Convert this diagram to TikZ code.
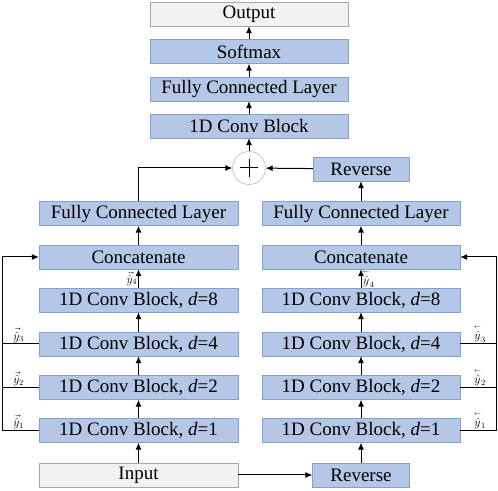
\documentclass[tikz,border=0pt]{standalone}
\usepackage{fontspec}
\usepackage{amsmath}
\setmainfont{Liberation Serif}
\newfontfamily\blkfont{Liberation Serif}
\usetikzlibrary{positioning,arrows.meta}

\definecolor{blockfill}{RGB}{180,199,231}
\definecolor{blockline}{RGB}{132,160,206}
\definecolor{iofill}{RGB}{242,242,242}
\definecolor{ioline}{RGB}{166,166,166}

\newcommand{\blksiz}{\blkfont\fontsize{19}{21}\selectfont}
\newcommand{\yhsiz}{\fontsize{12}{13}\selectfont}
\newcommand{\fwd}[1]{\vec{\hat{y}}_{#1}}
\newcommand{\bwd}[1]{\overset{\scriptscriptstyle\leftarrow}{\hat{y}}_{#1}}

\tikzset{
    block/.style={draw=blockline, fill=blockfill, minimum height=24pt, inner sep=0pt, font=\blksiz},
    iobox/.style={draw=ioline, fill=iofill, minimum height=24pt, inner sep=0pt, font=\blksiz},
    flow/.style={line width=1pt, -{Latex[length=7pt,width=6pt]}},
    link/.style={line width=1pt},
    yhat/.style={font=\yhsiz, inner sep=1pt}
}

\begin{document}
\begin{tikzpicture}[x=1pt, y=1pt]
    \useasboundingbox (0,0) rectangle (498,490);

    % top stack
    \node[iobox, minimum width=198pt] (out) at (249,476) {Output};
    \node[block, minimum width=198pt] (soft) at (249,438.5) {Softmax};
    \node[block, minimum width=198pt] (fctop) at (249,401) {Fully Connected Layer};
    \node[block, minimum width=198pt] (convtop) at (249,364) {1D Conv Block};
    \node[circle, draw=ioline, fill=white, minimum size=33pt, inner sep=0pt] (sum) at (249,322) {};
    \draw[link] ([xshift=-9pt]sum.center) -- ([xshift=9pt]sum.center);
    \draw[link] ([yshift=-9pt]sum.center) -- ([yshift=9pt]sum.center);
    \node[block, minimum width=96pt] (revtop) at (361,321) {Reverse};

    % forward branch
    \node[block, minimum width=199pt] (fcl) at (138.5,276.5) {Fully Connected Layer};
    \node[block, minimum width=199pt] (catl) at (138.5,233) {Concatenate};
    \node[block, minimum width=199pt] (dl8) at (138.5,190) {1D Conv Block, \textit{d}=8};
    \node[block, minimum width=199pt] (dl4) at (138.5,146) {1D Conv Block, \textit{d}=4};
    \node[block, minimum width=199pt] (dl2) at (138.5,102.5) {1D Conv Block, \textit{d}=2};
    \node[block, minimum width=199pt] (dl1) at (138.5,59.5) {1D Conv Block, \textit{d}=1};
    \node[iobox, minimum width=199pt] (inp) at (138.5,15) {Input};

    % backward branch
    \node[block, minimum width=198pt] (fcr) at (361,276.5) {Fully Connected Layer};
    \node[block, minimum width=198pt] (catr) at (361,233) {Concatenate};
    \node[block, minimum width=198pt] (dr8) at (361,190) {1D Conv Block, \textit{d}=8};
    \node[block, minimum width=198pt] (dr4) at (361,146) {1D Conv Block, \textit{d}=4};
    \node[block, minimum width=198pt] (dr2) at (361,102.5) {1D Conv Block, \textit{d}=2};
    \node[block, minimum width=198pt] (dr1) at (361,59.5) {1D Conv Block, \textit{d}=1};
    \node[block, minimum width=97pt] (revbot) at (361,15) {Reverse};

    \coordinate (lbus) at (2,0);
    \coordinate (rbus) at (496,0);

    % main flow
    \draw[flow] (inp) -- (dl1);
    \draw[flow] (dl1) -- (dl2);
    \draw[flow] (dl2) -- (dl4);
    \draw[flow] (dl4) -- (dl8);
    \draw[flow] (dl8) -- node[yhat, left, pos=0.5] {$\fwd{4}$} (catl);
    \draw[flow] (catl) -- (fcl);
    \draw[flow] (fcl.north) |- (sum.west);

    \draw[flow] (inp.east) -- (revbot.west);
    \draw[flow] (revbot) -- (dr1);
    \draw[flow] (dr1) -- (dr2);
    \draw[flow] (dr2) -- (dr4);
    \draw[flow] (dr4) -- (dr8);
    \draw[flow] (dr8) -- node[yhat, right, pos=0.5] {$\bwd{4}$} (catr);
    \draw[flow] (catr) -- (fcr);
    \draw[flow] (fcr) -- (revtop);
    \draw[flow] (revtop) -- (sum);

    \draw[flow] (sum) -- (convtop);
    \draw[flow] (convtop) -- (fctop);
    \draw[flow] (fctop) -- (soft);
    \draw[flow] (soft) -- (out);

    % skip outputs, left
    \draw[flow] (dl1.west) -- node[yhat, above, pos=0.55] {$\fwd{1}$} (dl1.west -| lbus) -- (catl.west -| lbus) -- (catl.west);
    \draw[link] (dl2.west) -- node[yhat, above, pos=0.55] {$\fwd{2}$} (dl2.west -| lbus);
    \draw[link] (dl4.west) -- node[yhat, above, pos=0.55] {$\fwd{3}$} (dl4.west -| lbus);

    % skip outputs, right
    \draw[flow] (dr1.east) -- node[yhat, above, pos=0.55] {$\bwd{1}$} (dr1.east -| rbus) -- (catr.east -| rbus) -- (catr.east);
    \draw[link] (dr2.east) -- node[yhat, above, pos=0.55] {$\bwd{2}$} (dr2.east -| rbus);
    \draw[link] (dr4.east) -- node[yhat, above, pos=0.55] {$\bwd{3}$} (dr4.east -| rbus);

\end{tikzpicture}
\end{document}
